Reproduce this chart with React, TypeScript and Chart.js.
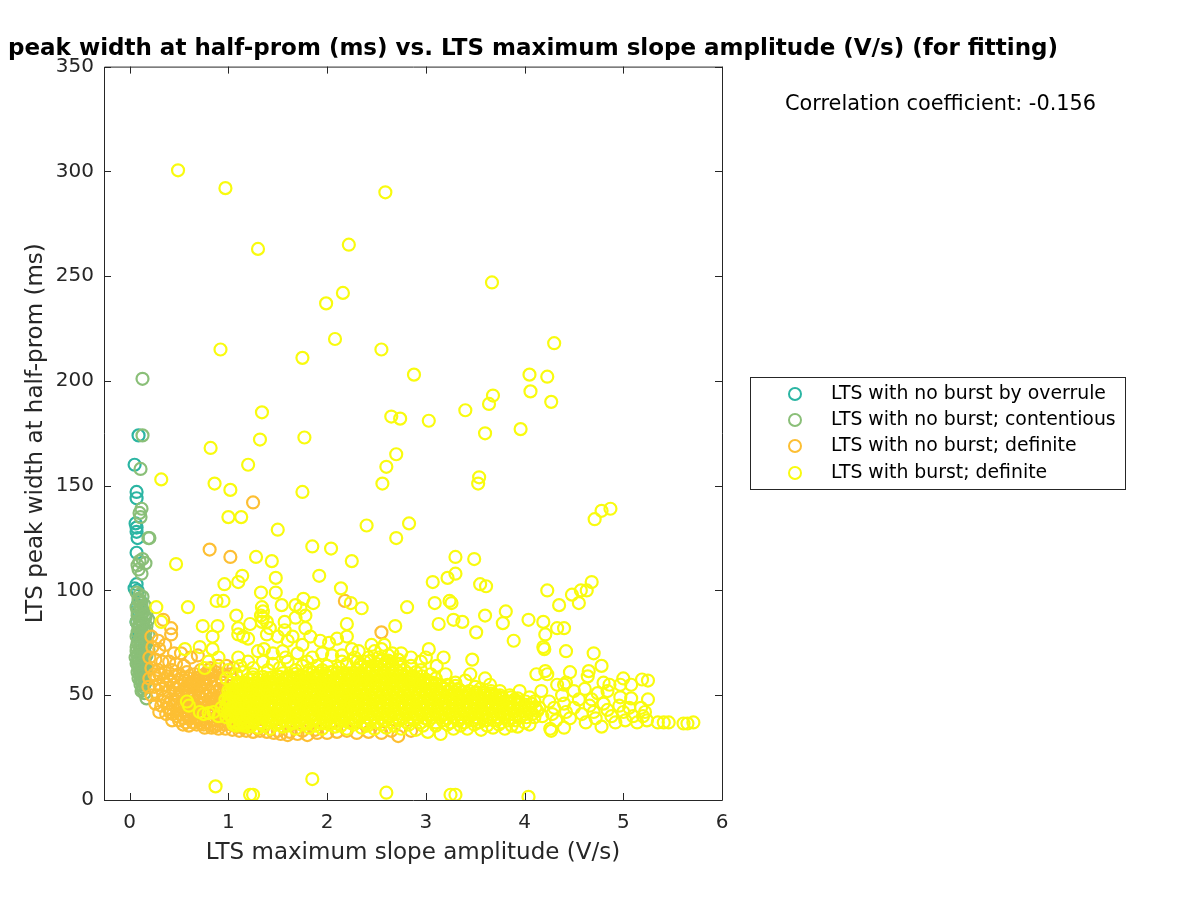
import React, { useEffect, useRef } from "react";
import { Chart, registerables } from "chart.js";

Chart.register(...registerables);

type P = [number, number];

const titleText = "peak width at half-prom (ms) vs. LTS maximum slope amplitude (V/s) (for fitting)";
const xLabel = "LTS maximum slope amplitude (V/s)";
const yLabel = "LTS peak width at half-prom (ms)";
const corrText = "Correlation coefficient: -0.156";
const seriesNames = ["LTS with no burst by overrule", "LTS with no burst; contentious", "LTS with no burst; definite", "LTS with burst; definite"];
const seriesColors = ["#2bb5a3", "#8abf78", "#fdbf33", "#f9fb0e"];

const overrule: P[] = [[0.05,160],[0.07,147],[0.07,144],[0.09,174],[0.06,132],[0.07,130],[0.07,128],[0.08,125],[0.07,118],[0.05,101],[0.07,103],[0.08,100],[0.08,93],[0.09,90],[0.1,86],[0.09,78],[0.07,85],[0.11,95]];

const contentious: P[] = [[0.13,201],[0.13,174],[0.11,158],[0.12,139],[0.1,137],[0.11,135],[0.2,125],[0.19,125],[0.13,115],[0.1,114],[0.08,112],[0.16,113],[0.09,110],[0.12,108],
[0.07,99],[0.1,98],[0.13,97],[0.09,95],[0.12,94],[0.15,93],[0.07,92],[0.11,91],[0.14,90],[0.17,89],[0.08,88],[0.12,87.5],[0.16,87],[0.19,86],[0.07,85],[0.1,84],[0.14,84],[0.17,83],
[0.09,82],[0.12,81],[0.16,80],[0.19,79],[0.07,78],[0.11,78],[0.14,77],[0.17,76],[0.08,75],[0.12,74],[0.15,73],[0.19,72],[0.07,71],[0.1,71],[0.13,70],[0.17,69],[0.06,68],[0.09,67],[0.12,67],[0.15,66],
[0.07,65],[0.1,64],[0.14,63],[0.17,62],[0.08,61],[0.12,60],[0.15,59],[0.09,58],[0.13,57],[0.16,56],[0.11,55],[0.14,54],[0.12,52],[0.15,51],[0.17,48.5],
[0.09,96],[0.12,92],[0.08,90],[0.15,88],[0.1,86],[0.13,85],[0.09,83],[0.15,82],[0.12,79],[0.08,80],[0.15,78],[0.1,76],[0.13,75],[0.07,73],[0.16,74],[0.1,73],[0.14,71],[0.08,69],[0.11,69],[0.15,68],[0.08,66],[0.12,65],[0.16,64],[0.09,63],[0.12,62],[0.15,61],[0.1,60],[0.14,58],[0.11,57],[0.15,55],[0.13,53]];

const noBurstDef: P[] = [[1.25,142],[0.81,119.5],[1.02,116],[2.18,95],[2.55,80],[2.72,30.5],[0.34,86],[0.22,78],[0.29,76],[0.42,82],[0.42,79],[0.23,73],[0.3,72],[0.36,74],[0.45,70],[0.52,70],[0.62,68],[0.69,69],
[0.2,68],[0.26,67],[0.33,66],[0.4,66],[0.47,65],[0.55,64],[0.22,63],[0.29,62],[0.36,61],[0.43,62],[0.5,60],[0.58,61],[0.66,60],[0.2,58],[0.27,58],[0.34,57],[0.41,57],[0.48,56],[0.56,57],[0.63,56],[0.7,57],
[0.19,54],[0.25,54],[0.32,53],[0.39,52],[0.46,53],[0.53,52],[0.6,52],[0.68,53],[0.75,55],[0.22,50],[0.28,50],[0.35,49],[0.42,48],[0.49,49],[0.56,48],[0.63,48],[0.71,49],[0.78,50],
[0.26,46],[0.32,45],[0.39,44],[0.46,45],[0.53,44],[0.6,44],[0.67,45],[0.74,46],[0.81,46],[0.3,42],[0.37,41],[0.44,41],[0.51,41],[0.58,40],[0.65,41],[0.72,41],[0.79,42],[0.86,43],
[0.43,38],[0.5,38],[0.57,37],[0.64,37],[0.71,38],[0.78,37],[0.85,38],[0.92,39],[0.76,34.5],[0.83,34.5],[0.9,34],[0.97,34],[1.04,33.5],[1.11,33],[1.18,33],[1.25,32.5],[1.32,33],[1.39,32.5],[1.46,32],[1.53,31.5],[1.6,31],[1.7,31.5],[1.8,31],[1.9,32],[2.0,32],
[0.9,64],[0.98,64],[1.05,63],[0.8,62],[0.87,61],[0.94,60],[1.02,60],[0.8,58],[0.87,57],[0.94,56],[0.84,54],[0.91,53],[0.98,53],[0.85,50],[0.92,49],[0.88,47],[0.95,46],[1.0,44],[0.92,42],[1.0,40],[1.07,38],[1.0,37],
[0.72,62],[0.76,60],[0.82,63],[0.77,56],[0.72,54],[0.66,50],[0.74,52],[0.81,52],[0.88,52],[0.68,47],[0.75,48],[0.82,48],[0.9,46],[0.62,46],[0.55,46],[0.48,47],[0.4,46],[0.34,47],[0.62,43],[0.69,43],[0.76,44],[0.83,44],[0.9,44],[0.55,42],[0.48,43],[0.41,42],[0.69,39.5],[0.76,40],[0.83,40],[0.9,41],[0.97,42],[0.62,39],[0.55,39],[0.48,40],[0.68,36],[0.75,36],[0.82,36],[0.89,36],[0.96,36],[1.03,36],[1.1,35],[1.17,35],[0.6,35.5],[0.54,36],[0.3,55],[0.37,55],[0.44,55],[0.51,55],[0.58,54.5],[0.65,54],[0.3,60],[0.25,60],[0.38,59],[0.45,59],[0.53,58],[0.6,58],[0.68,58],[0.75,58],
[2.1,32.5],[2.2,33],[2.3,32],[2.42,32.5],[2.55,32],[2.65,33],[2.85,33],[1.15,34.5],[1.3,34],[1.5,33],[1.62,32.5],[1.75,33],[1.88,33.5],
[0.6,50],[0.53,50.5],[0.46,51],[0.7,51],[0.65,56],[0.72,59],[0.79,60],[0.58,42.5],[0.72,36.5],[0.86,35],[0.94,37.5],[0.8,39],[0.7,43.5],[0.85,47.5],[0.95,51],[0.96,48],[0.93,58],[0.85,59.5]];

const burstSparse: P[] = [
[0.49,300.5],[0.97,292],[2.59,290],[1.3,263],[2.22,265],[3.67,247],[2.16,242],[1.99,237],[2.08,220],[4.3,218],[0.92,215],[2.55,215],[1.75,211],[2.88,203],[4.05,203],[4.23,202],[3.68,193],[4.06,195],[3.64,189],[4.27,190],[3.4,186],[1.34,185],[2.65,183],[2.74,182],[3.03,181],[3.96,177],[3.6,175],[1.32,172],[1.77,173],[0.82,168],[2.7,165],[1.2,160],[2.6,159],[3.54,154],[0.32,153],[0.86,151],[2.56,151],[3.53,151],[1.02,148],[1.75,147],[1.13,135],[1.0,135],[4.87,139],[4.78,138],[4.71,134],[1.5,129],[2.83,132],[2.4,131],[2.7,125],[1.85,121],[2.04,120],[1.28,116],[1.44,114],[2.25,114],[3.3,116],[3.49,115],
[0.47,112.6],[0.27,92],[0.59,92],[0.32,85],[0.74,83],[0.89,83],[0.84,78],[0.71,73],[0.56,72],[0.84,72],[0.96,103],[1.1,104],[1.14,107],[1.48,106],[1.92,107],[2.14,101],[1.33,99],[1.48,99],[0.88,95],[0.95,95],[1.54,93],[1.68,93],[1.76,96],[1.73,91.5],[1.86,94],[1.34,92],[1.35,90],[1.33,88],[1.35,87],[1.34,85],[1.08,88],[1.22,84],[1.1,82],[1.39,85],[1.39,79],[1.57,85],[1.57,81],[1.68,87],[1.78,88],[1.78,82],[2.2,84],[2.69,83],[2.35,91.5],[2.24,94],[2.2,78],[2.81,92],
[1.1,79],[1.15,78],[1.2,77],[1.42,82],[1.5,78],[1.6,76],[1.65,78],[1.75,74],[1.83,78],[1.93,76],[2.02,75],[2.1,77],[2.25,72],[2.32,71],[2.45,74],[2.55,72],[2.66,70],[1.3,71],[1.36,72],[1.45,70],[1.55,71],[1.7,70],[1.85,68],[1.95,70],[2.05,69],[2.15,69],[2.3,66],[2.42,68],[2.75,70],[2.85,68],[2.95,66],[1.1,68],[1.2,66],[1.35,66],[1.45,65],[1.6,66],[1.75,64],[1.9,64],[2.0,64],[2.12,63],[2.2,65],[2.4,63],[2.6,66],[0.76,63],[0.8,66],[0.9,68],[1.0,62],
[3.07,104],[3.22,106],[3.3,108],[3.55,103],[3.61,102],[4.23,100],[3.09,94],[3.24,95],[3.26,94],[3.81,90],[3.6,88],[3.78,84.4],[4.04,86],[4.19,85],[4.21,79],[4.33,82],[4.4,82],[4.35,93],[4.48,98],[4.57,100],[4.63,100],[4.68,104],[4.55,94],[3.13,84],[3.28,86],[3.37,85],[3.51,80],[3.89,76],[4.19,73],[4.2,72],[4.42,71],[4.7,70],[4.78,64],[3.47,67],[3.03,72],[3.0,68],[3.18,68],[3.11,64],
[4.12,60],[4.21,61.5],[4.23,60],[4.46,61],[4.65,61.5],[4.64,59],[4.8,56],[4.86,55],[4.84,52],[5.0,58],[4.97,55],[5.08,55],[5.19,57.5],[5.25,57],[5.25,48],[4.97,49],[5.08,48.5],[4.74,51],[4.61,53],[4.42,56],[4.33,55],[4.4,55],[4.17,52],[5.35,37],[5.41,37],[5.46,37],[5.61,36.5],[5.65,36.5],[5.71,37],[4.78,35],[4.26,34],[4.4,34.5],[4.27,33],
[3.25,2.5],[3.3,2.5],[4.04,1.5],[2.6,3.5],[1.85,10],[0.87,6.5],[1.22,2.5],[1.25,2.5],
[4.25,47],[4.3,44],[4.28,41],[4.32,38],[4.4,46],[4.42,42],[4.46,39],[4.5,44],[4.55,48],[4.58,41],[4.62,37],[4.66,45],[4.7,42],[4.72,39],[4.8,46],[4.84,43],[4.88,40],[4.92,37],[4.96,45],[5.0,42],[5.02,38],[5.06,44],[5.1,40],[5.14,37],[5.18,44],[5.2,40],[5.22,42],[5.24,38],[4.38,50],[4.5,52],[4.68,48],
[3.3,56],[3.4,57],[3.5,54],[3.6,58],[3.65,55],[3.75,52],[3.85,50],[3.95,52],[4.05,49],[3.2,60],[3.45,60],[3.55,53],[3.7,50],[3.9,48],[4.1,47],[4.15,44],[4.18,40],[3.1,58],[2.95,62],[3.05,60],
[0.71,42],[0.75,41],[0.8,41.5],[0.85,42],[0.9,40],[0.93,44],[0.97,48],[1.0,52],[1.02,46],[1.03,56],[0.98,58],[1.08,60],[1.15,61],[1.25,60],[0.58,47],[0.6,45],[1.05,36],[1.12,36],[1.2,35],
[1.4,62],[1.52,63],[1.68,62],[1.82,62],[1.95,62],[2.06,61],[1.25,63],[1.12,64],[2.15,66],[2.52,68],[2.62,69],[2.72,67],[2.85,64],[2.9,61],[1.58,68],[1.8,66],[2.28,68],[2.48,71],[2.58,74],[2.38,66]];

const burstBand: P[] = [
[1.04,38],[1.12,38],[1.19,37],[1.27,38],[1.34,37],[1.41,38],[1.49,37],[1.56,38],[1.63,37],[1.71,38],[1.78,37],[1.85,38],[1.93,37],[2.0,38],[2.07,37],[2.15,38],[2.22,37],[2.29,38],[2.37,37],[2.44,38],[2.51,37],[2.59,38],[2.66,37],[2.73,38],[2.81,37],[2.88,38],[2.95,37],[3.03,38],[3.1,37],[3.17,38],[3.25,37],[3.32,38],[3.39,37],[3.47,38],[3.54,37],[3.61,38],[3.69,38],[3.76,37],[3.83,38],[3.91,38],
[1.3,34.5],[1.42,34],[1.55,35],[1.68,34],[1.82,34.5],[1.95,34],[2.08,35],[2.2,34],[2.35,34.5],[2.48,34],[2.6,34.5],[2.75,34],[2.9,33.5],[3.02,32.5],[3.15,31.5],[3.28,34],[3.42,34],[3.56,33.5],[3.68,34.5],[3.8,34],[3.93,35],[4.05,36],
[1.0,41],[1.07,41],[1.15,41],[1.22,41],[1.29,41],[1.37,41],[1.44,41],[1.51,41],[1.59,41],[1.66,41],[1.73,41],[1.81,41],[1.88,41],[1.95,41],[2.03,41],[2.1,41],[2.17,41],[2.25,41],[2.32,41],[2.39,41],[2.47,41],[2.54,41],[2.61,41],[2.69,41],[2.76,41],[2.83,41],[2.91,41],[2.98,41],[3.05,41],[3.13,41],[3.2,41],[3.27,41],[3.35,41],[3.42,41],[3.49,41],[3.57,41],[3.64,41],[3.71,41],[3.79,41],[3.86,41],[3.93,41],[4.01,41],[4.08,41],
[1.03,44],[1.11,44],[1.18,44],[1.25,44],[1.33,44],[1.4,44],[1.47,44],[1.55,44],[1.62,44],[1.69,44],[1.77,44],[1.84,44],[1.91,44],[1.99,44],[2.06,44],[2.13,44],[2.21,44],[2.28,44],[2.35,44],[2.43,44],[2.5,44],[2.57,44],[2.65,44],[2.72,44],[2.79,44],[2.87,44],[2.94,44],[3.01,44],[3.09,44],[3.16,44],[3.23,44],[3.31,44],[3.38,44],[3.45,44],[3.53,44],[3.6,44],[3.67,44],[3.75,44],[3.82,44],[3.89,44],[3.97,44],[4.04,44],[4.11,44],
[1.0,47],[1.07,47],[1.15,47],[1.22,47],[1.29,47],[1.37,47],[1.44,47],[1.51,47],[1.59,47],[1.66,47],[1.73,47],[1.81,47],[1.88,47],[1.95,47],[2.03,47],[2.1,47],[2.17,47],[2.25,47],[2.32,47],[2.39,47],[2.47,47],[2.54,47],[2.61,47],[2.69,47],[2.76,47],[2.83,47],[2.91,47],[2.98,47],[3.05,47],[3.13,47],[3.2,47],[3.27,47],[3.35,47],[3.42,47],[3.49,47],[3.57,47],[3.64,47],[3.71,47],[3.79,47],[3.86,47],[3.93,47],[4.01,47],
[1.03,50],[1.11,50],[1.18,50],[1.25,50],[1.33,50],[1.4,50],[1.47,50],[1.55,50],[1.62,50],[1.69,50],[1.77,50],[1.84,50],[1.91,50],[1.99,50],[2.06,50],[2.13,50],[2.21,50],[2.28,50],[2.35,50],[2.43,50],[2.5,50],[2.57,50],[2.65,50],[2.72,50],[2.79,50],[2.87,50],[2.94,50],[3.01,50],[3.09,50],[3.16,50],[3.23,50],[3.31,50],[3.38,50],[3.45,50],[3.53,50],[3.6,50],[3.67,50],[3.75,50],
[1.05,53],[1.13,53],[1.2,53],[1.28,53],[1.35,53],[1.42,53],[1.5,53],[1.57,53],[1.64,53],[1.72,53],[1.79,53],[1.86,53],[1.94,53],[2.01,53],[2.08,53],[2.16,53],[2.23,53],[2.3,53],[2.38,53],[2.45,53],[2.52,53],[2.6,53],[2.67,53],[2.74,53],[2.82,53],[2.89,53],[2.96,53],[3.04,53],[3.11,53],[3.18,53],[3.26,53],[3.33,53],
[1.1,56],[1.18,56],[1.27,56],[1.36,56],[1.45,56],[1.54,56],[1.62,56],[1.7,56],[1.78,56],[1.86,56],[1.94,56],[2.02,56],[2.1,56],[2.18,56],[2.26,56],[2.34,56],[2.42,56],[2.5,56],[2.58,56],[2.66,56],[2.74,56],[2.82,56],[2.9,56],[2.98,56],[3.06,56],
[1.5,59],[1.62,59],[1.75,59],[1.88,59],[2.0,59],[2.12,59],[2.24,59],[2.32,59],[2.4,59],[2.48,59],[2.56,59],[2.64,59],[2.72,59],[2.8,59],[2.88,59],[2.96,59],
[2.3,62],[2.38,62],[2.46,62],[2.54,62],[2.62,62],[2.7,62],[2.78,62],[2.34,65],[2.5,65],[2.58,65],[2.66,65],[2.74,65]
];

const burstBandInfill: P[] = [
[1.08,35.5],[1.16,35.5],[1.23,35.5],[1.36,35.5],[1.48,36],[1.6,35.5],[1.74,36],[1.88,35.5],[2.02,36],[2.14,35.5],[2.27,36],[2.41,35.5],[2.55,36],[2.68,35.5],[2.83,36],[2.97,35.5],[3.1,35.5],[3.22,36],[3.35,35.5],[3.49,36],[3.62,35.5],[3.74,36],[3.87,35.5],[4.0,37],
[0.98,39.5],[1.08,39.5],[1.16,39.5],[1.23,39],[1.31,39.5],[1.38,39.5],[1.45,39],[1.53,39.5],[1.6,39.5],[1.67,39],[1.75,39.5],[1.82,39.5],[1.89,39],[1.97,39.5],[2.04,39.5],[2.11,39],[2.19,39.5],[2.26,39.5],[2.33,39],[2.41,39.5],[2.48,39.5],[2.55,39],[2.63,39.5],[2.7,39.5],[2.77,39],[2.85,39.5],[2.92,39.5],[2.99,39],[3.07,39.5],[3.14,39.5],[3.21,39],[3.29,39.5],[3.36,39.5],[3.43,39],[3.51,39.5],[3.58,39.5],[3.65,39],[3.73,39.5],[3.8,39.5],[3.87,39],[3.95,39.5],[4.02,39.5],[4.1,39.5],
[0.96,42.5],[1.04,42.5],[1.12,42.5],[1.2,43],[1.27,42.5],[1.35,42.5],[1.42,43],[1.49,42.5],[1.57,42.5],[1.64,43],[1.71,42.5],[1.79,42.5],[1.86,43],[1.93,42.5],[2.01,42.5],[2.08,43],[2.15,42.5],[2.23,42.5],[2.3,43],[2.37,42.5],[2.45,42.5],[2.52,43],[2.59,42.5],[2.67,42.5],[2.74,43],[2.81,42.5],[2.89,42.5],[2.96,43],[3.03,42.5],[3.11,42.5],[3.18,43],[3.25,42.5],[3.33,42.5],[3.4,43],[3.47,42.5],[3.55,42.5],[3.62,43],[3.69,42.5],[3.77,42.5],[3.84,43],[3.91,42.5],[3.99,42.5],[4.06,43],[4.13,42.5],
[0.98,45.5],[1.05,45.5],[1.14,45.5],[1.21,46],[1.29,45.5],[1.36,45.5],[1.43,46],[1.51,45.5],[1.58,45.5],[1.65,46],[1.73,45.5],[1.8,45.5],[1.87,46],[1.95,45.5],[2.02,45.5],[2.09,46],[2.17,45.5],[2.24,45.5],[2.31,46],[2.39,45.5],[2.46,45.5],[2.53,46],[2.61,45.5],[2.68,45.5],[2.75,46],[2.83,45.5],[2.9,45.5],[2.97,46],[3.05,45.5],[3.12,45.5],[3.19,46],[3.27,45.5],[3.34,45.5],[3.41,46],[3.49,45.5],[3.56,45.5],[3.63,46],[3.71,45.5],[3.78,45.5],[3.85,46],[3.93,45.5],[4.0,45.5],[4.07,46],
[1.0,48.5],[1.07,48.5],[1.14,48.5],[1.22,49],[1.29,48.5],[1.36,48.5],[1.44,49],[1.51,48.5],[1.58,48.5],[1.66,49],[1.73,48.5],[1.8,48.5],[1.88,49],[1.95,48.5],[2.02,48.5],[2.1,49],[2.17,48.5],[2.24,48.5],[2.32,49],[2.39,48.5],[2.46,48.5],[2.54,49],[2.61,48.5],[2.68,48.5],[2.76,49],[2.83,48.5],[2.9,48.5],[2.98,49],[3.05,48.5],[3.12,48.5],[3.2,49],[3.27,48.5],[3.34,48.5],[3.42,49],[3.49,48.5],[3.56,48.5],[3.64,49],[3.71,48.5],[3.78,48.5],[3.86,49],[3.93,48.5],
[1.02,51.5],[1.09,51.5],[1.16,51.5],[1.24,52],[1.31,51.5],[1.38,51.5],[1.46,52],[1.53,51.5],[1.6,51.5],[1.68,52],[1.75,51.5],[1.82,51.5],[1.9,52],[1.97,51.5],[2.04,51.5],[2.12,52],[2.19,51.5],[2.26,51.5],[2.34,52],[2.41,51.5],[2.48,51.5],[2.56,52],[2.63,51.5],[2.7,51.5],[2.78,52],[2.85,51.5],[2.92,51.5],[3.0,52],[3.07,51.5],[3.14,51.5],[3.22,52],[3.29,51.5],[3.36,51.5],[3.44,52],[3.51,51.5],[3.58,51.5],[3.66,52],
[1.08,54.5],[1.16,54.5],[1.24,55],[1.32,54.5],[1.39,54.5],[1.46,55],[1.54,54.5],[1.61,54.5],[1.68,55],[1.76,54.5],[1.83,54.5],[1.9,55],[1.98,54.5],[2.05,54.5],[2.12,55],[2.2,54.5],[2.27,54.5],[2.34,55],[2.42,54.5],[2.49,54.5],[2.56,55],[2.64,54.5],[2.71,54.5],[2.78,55],[2.86,54.5],[2.93,54.5],[3.0,55],[3.08,54.5],[3.15,54.5],[3.22,55],[3.3,54.5],
[1.2,57.5],[1.3,57.5],[1.4,58],[1.48,57.5],[1.58,57.5],[1.66,58],[1.74,57.5],[1.82,57.5],[1.9,58],[1.98,57.5],[2.06,57.5],[2.14,58],[2.22,57.5],[2.3,57.5],[2.36,58],[2.44,57.5],[2.52,57.5],[2.6,58],[2.68,57.5],[2.76,57.5],[2.84,58],[2.92,57.5],[3.0,57.5],
[1.8,60.5],[1.92,60.5],[2.04,61],[2.18,60.5],[2.28,60.5],[2.35,60.5],[2.43,60.5],[2.5,60.5],[2.58,60.5],[2.66,60.5],[2.74,60.5],[2.82,60.5],[2.34,63.5],[2.42,63.5],[2.5,63.5],[2.58,63.5],[2.66,63.5],[2.74,63.5],[2.44,66.5],[2.54,66.5],[2.62,66.5]
];

const burstBandExtra: P[] = [
[1.06,37.2],[1.15,36.8],[1.24,37],[1.32,36.5],[1.4,37],[1.52,36.5],[1.66,36.7],[1.8,36.4],[1.96,36.6],[2.1,36.5],[2.25,36.7],[2.4,36.4],
[1.03,40],[1.11,40.3],[1.19,40.1],[1.27,40.4],[1.35,40],[1.43,40.2],[1.55,40.3],[1.69,40.1],[1.85,40.2],[1.99,40.4],[2.14,40],[2.29,40.2],
[1.01,43.3],[1.09,43.5],[1.17,43.2],[1.25,43.4],[1.33,43.1],[1.41,43.4],[1.53,43.2],[1.67,43.5],[1.83,43.2],[1.97,43.4],[2.12,43.1],[2.27,43.4],
[1.02,46.5],[1.1,46.2],[1.18,46.4],[1.26,46.1],[1.34,46.5],[1.42,46.3],[1.54,46.2],[1.68,46.5],[1.84,46.3],[1.98,46.1],[2.13,46.4],[2.28,46.2],
[1.04,49.5],[1.12,49.3],[1.2,49.6],[1.28,49.2],[1.36,49.5],[1.44,49.4],[1.56,49.3],[1.7,49.6],[1.86,49.2],[2.0,49.5],[2.15,49.3],[2.3,49.6],
[1.07,52.4],[1.15,52.7],[1.23,52.3],[1.31,52.6],[1.39,52.4],[1.47,52.7],[1.55,52.4],[1.63,52.6],[1.71,52.3],[1.79,52.7],[1.87,52.4],[1.95,52.6],[2.03,52.3],[2.11,52.7],[2.19,52.4],[2.27,52.6],[2.35,52.3],
[1.12,55.5],[1.2,55.2],[1.29,55.6],[1.38,55.3],[1.47,55.6],[1.56,55.3],[1.64,55.6],[1.72,55.2],[1.8,55.5],[1.88,55.3],[1.96,55.6],[2.04,55.2],[2.12,55.5],[2.2,55.3],[2.28,55.6],
[1.25,58.5],[1.35,58.8],[1.44,58.4],[1.53,58.7],[1.62,58.3],[1.7,58.7],[1.78,58.4],[1.86,58.7],[1.94,58.3],[2.02,58.7],[2.1,58.4],[2.18,58.7],[2.26,58.4],
[1.55,60.5],[1.68,60.2],[1.86,60.8],[1.98,60.3],[2.1,60.7],[2.22,60.4],[2.86,56.8],[2.94,56.4],[3.02,56.8],[3.1,55.5],[3.18,53.5],[3.26,52.8],[3.34,52.6],[3.42,50.8],[3.5,51],[3.58,50.7],[3.66,50.8],[3.74,49.2]
];

const xTicks = [0, 1, 2, 3, 4, 5, 6];
const yTicks = [0, 50, 100, 150, 200, 250, 300, 350];
const xRange = [-0.26, 6];
const yRange = [0, 350];
const allSeries = [overrule, contentious, noBurstDef, [...burstSparse, ...burstBand, ...burstBandInfill, ...burstBandExtra]];

const boxPlugin = {
  id: "matlabBox",
  afterDraw(chart: any) {
    const { ctx, chartArea: a, scales } = chart;
    ctx.save();
    ctx.strokeStyle = "#262626";
    ctx.lineWidth = 1;
    ctx.beginPath();
    ctx.rect(a.left + 0.5, a.top + 0.5, a.right - a.left, a.bottom - a.top);
    for (const t of xTicks) {
      const x = Math.round(scales.x.getPixelForValue(t)) + 0.5;
      ctx.moveTo(x, a.bottom); ctx.lineTo(x, a.bottom - 7);
      ctx.moveTo(x, a.top); ctx.lineTo(x, a.top + 7);
    }
    for (const t of yTicks) {
      const y = Math.round(scales.y.getPixelForValue(t)) + 0.5;
      ctx.moveTo(a.left, y); ctx.lineTo(a.left + 7, y);
      ctx.moveTo(a.right, y); ctx.lineTo(a.right - 7, y);
    }
    ctx.stroke();

    ctx.textBaseline = "middle";
    ctx.textAlign = "left";
    ctx.fillStyle = "#000";
    ctx.font = "20.85px 'DejaVu Sans'";
    ctx.fillText(corrText, 785, 105);

    ctx.strokeStyle = "#262626";
    ctx.lineWidth = 1;
    ctx.strokeRect(750.5, 377.5, 375, 112);
    ctx.font = "18.85px 'DejaVu Sans'";
    const rows = [394, 420, 446, 473];
    chart.data.datasets.forEach((d: any, i: number) => {
      ctx.beginPath();
      ctx.lineWidth = 2;
      ctx.strokeStyle = d.borderColor;
      ctx.arc(795, rows[i], 6, 0, Math.PI * 2);
      ctx.stroke();
      ctx.fillStyle = "#000";
      ctx.fillText(d.label, 831, rows[i]);
    });
    ctx.restore();
  },
};

export default function App() {
  const ref = useRef<HTMLCanvasElement>(null);
  useEffect(() => {
    const chart = new Chart(ref.current!, {
      type: "scatter",
      data: {
        datasets: allSeries.map((s, i) => ({
          label: seriesNames[i],
          data: s.map(([x, y]) => ({ x, y })),
          borderColor: seriesColors[i],
          backgroundColor: "transparent",
          pointRadius: 6,
          pointBorderWidth: 2.2,
          pointStyle: "circle",
          order: allSeries.length - i,
        })),
      },
      plugins: [boxPlugin],
      options: {
        responsive: false,
        animation: false,
        layout: { padding: { left: 8, right: 0, top: 0, bottom: 33 } },
        plugins: {
          legend: { display: false },
          tooltip: { enabled: false },
          title: {
            display: true,
            text: titleText,
            align: "start",
            color: "#000",
            font: { family: "'DejaVu Sans'", size: 23, weight: "bold" },
            padding: { top: 35, bottom: 4 },
          },
        },
        scales: {
          x: {
            type: "linear",
            min: xRange[0],
            max: xRange[1],
            afterBuildTicks: (s: any) => { s.ticks = xTicks.map((value) => ({ value })); },
            afterFit: (s: any) => { s.height = 67; },
            grid: { display: false },
            border: { display: false },
            ticks: { color: "#262626", font: { family: "'DejaVu Sans'", size: 20 }, padding: 3, maxRotation: 0 },
            title: { display: true, text: xLabel, color: "#262626", font: { family: "'DejaVu Sans'", size: 23 }, padding: { top: 2, bottom: 0 } },
          },
          y: {
            type: "linear",
            min: yRange[0],
            max: yRange[1],
            afterBuildTicks: (s: any) => { s.ticks = yTicks.map((value) => ({ value })); },
            afterFit: (s: any) => { s.width = 96; },
            grid: { display: false },
            border: { display: false },
            ticks: { color: "#262626", font: { family: "'DejaVu Sans'", size: 20 }, padding: 2 },
            title: { display: true, text: yLabel, color: "#262626", font: { family: "'DejaVu Sans'", size: 23 }, padding: { top: 14, bottom: 6 } },
          },
          spacer: {
            type: "linear",
            position: "right",
            display: true,
            afterFit: (s: any) => { s.width = 478; },
            grid: { display: false },
            border: { display: false },
            ticks: { display: false },
          },
        },
      },
    } as any);
    return () => chart.destroy();
  }, []);
  return <canvas ref={ref} width={1200} height={900} style={{ position: "absolute", left: 0, top: 0, display: "block" }} />;
}
